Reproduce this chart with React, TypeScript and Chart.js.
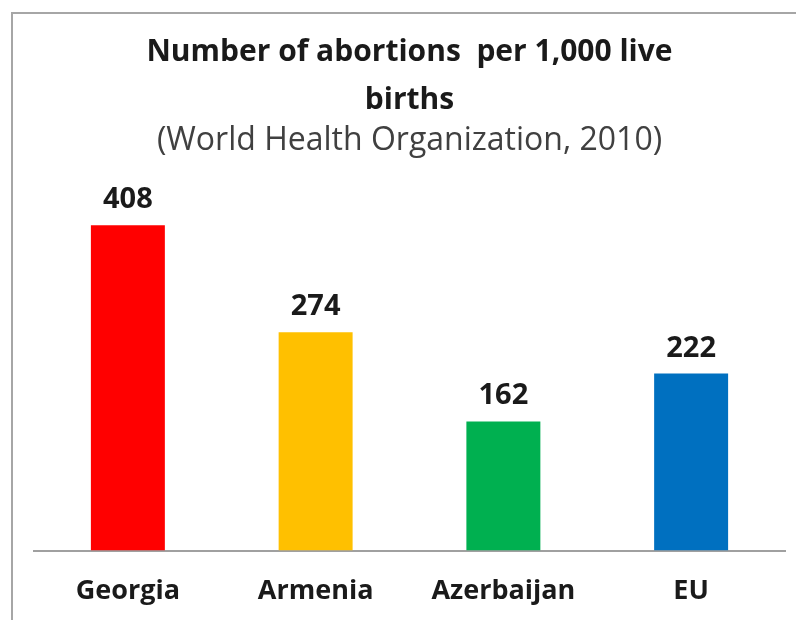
import { useEffect, useRef } from 'react';
import { Chart, registerables } from 'chart.js';

Chart.register(...registerables);

const countries = ['Georgia', 'Armenia', 'Azerbaijan', 'EU'];
const abortionsPer1000 = [408, 274, 162, 222];
const barColors = ['#FF0000', '#FFC000', '#00B050', '#0070C0'];
const titleLines = ['Number of abortions  per 1,000 live', 'births'];
const subtitleText = '(World Health Organization, 2010)';

const FONT = "'Open Sans', 'DejaVu Sans', sans-serif";

export default function App() {
  const canvasRef = useRef<HTMLCanvasElement>(null);

  useEffect(() => {
    if (!canvasRef.current) return;

    const chart = new Chart(canvasRef.current, {
      type: 'bar',
      data: {
        labels: countries,
        datasets: [
          {
            data: abortionsPer1000,
            backgroundColor: barColors,
            borderWidth: 0,
            categoryPercentage: 1,
            barPercentage: 0.394,
          },
        ],
      },
      options: {
        responsive: true,
        maintainAspectRatio: false,
        animation: false,
        layout: { padding: { left: 34, right: 11, top: 0, bottom: 0 } },
        plugins: {
          legend: { display: false },
          tooltip: { enabled: false },
          title: {
            display: true,
            text: titleLines,
            color: '#1a1a1a',
            font: { family: FONT, size: 30, weight: 'bold', lineHeight: 1.6 },
            padding: { top: 28, bottom: 0 },
          },
          subtitle: {
            display: true,
            text: subtitleText,
            color: '#404040',
            font: { family: FONT, size: 32, weight: 'normal', lineHeight: 0.9 },
            padding: { top: 2, bottom: 37 },
          },
        },
        scales: {
          x: {
            grid: { display: false, drawTicks: false },
            border: { display: true, color: '#a0a0a0', width: 2 },
            ticks: {
              color: '#1a1a1a',
              padding: 25,
              font: { family: FONT, size: 27, weight: 'bold' },
            },
          },
          y: {
            display: false,
            min: 0,
            max: 450,
          },
        },
      },
      plugins: [
        {
          id: 'valueLabels',
          afterDatasetsDraw(c) {
            const ctx = c.ctx;
            const meta = c.getDatasetMeta(0);
            ctx.save();
            ctx.font = `bold 29px ${FONT}`;
            ctx.fillStyle = '#1a1a1a';
            ctx.textAlign = 'center';
            ctx.textBaseline = 'alphabetic';
            meta.data.forEach((bar, i) => {
              ctx.fillText(String(abortionsPer1000[i]), bar.x, bar.y - 17);
            });
            ctx.restore();
          },
        },
      ],
    });

    return () => {
      chart.destroy();
    };
  }, []);

  return (
    <div
      style={{
        position: 'fixed',
        left: 0,
        top: 0,
        width: 796,
        height: 620,
        background: '#ffffff',
        overflow: 'hidden',
      }}
    >
      <div
        style={{
          position: 'absolute',
          left: 11,
          top: 12,
          width: 820,
          height: 660,
          border: '2px solid #a6a6a6',
        }}
      />
      <div style={{ position: 'absolute', left: 0, top: 0, width: 796, height: 633 }}>
        <canvas ref={canvasRef} />
      </div>
    </div>
  );
}
